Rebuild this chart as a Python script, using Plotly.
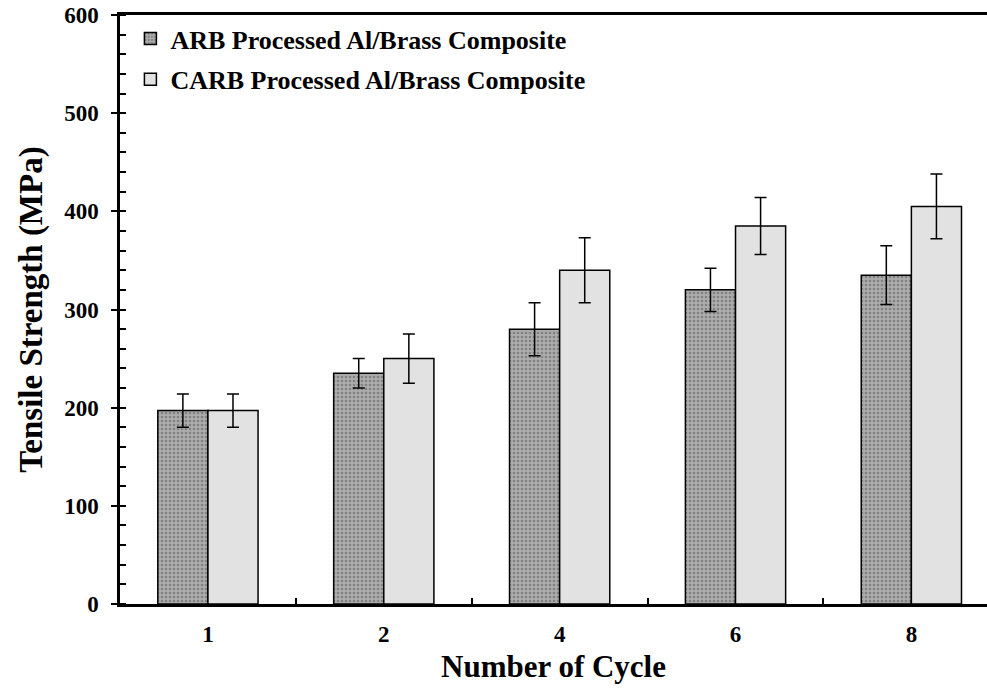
import plotly.graph_objects as go

cycles = ["1", "2", "4", "6", "8"]
arb_values = [197, 235, 280, 320, 335]
arb_errors = [17, 15, 27, 22, 30]
carb_values = [197, 250, 340, 385, 405]
carb_errors = [17, 25, 33, 29, 33]

FONT = "Liberation Serif"

fig = go.Figure()
fig.add_trace(go.Bar(
    x=cycles, y=arb_values, name="<b>ARB Processed Al/Brass Composite</b>",
    marker=dict(color="#a8a8a8", line=dict(color="black", width=1.5),
                pattern=dict(shape=".", fgcolor="#555555", bgcolor="#acacac", size=4, solidity=0.35)),
    error_y=dict(type="data", array=arb_errors, color="black", thickness=1.5, width=6),
    legendgroup="a",
))
fig.add_trace(go.Bar(
    x=cycles, y=carb_values, name="<b>CARB Processed Al/Brass Composite</b>",
    marker=dict(color="#e2e2e2", line=dict(color="black", width=1.5)),
    error_y=dict(type="data", array=carb_errors, color="black", thickness=1.5, width=6),
    legendgroup="b",
))
# invisible helper trace on overlay axis for inside major ticks
fig.add_trace(go.Scatter(x=cycles, y=arb_values, yaxis="y2", mode="none",
                         showlegend=False, hoverinfo="skip"))

fig.update_layout(
    width=987, height=696,
    margin=dict(l=120, r=0, t=15, b=92),
    plot_bgcolor="white", paper_bgcolor="white",
    barmode="group", bargap=0.43, bargroupgap=0,
    font=dict(family=FONT, color="black", size=23),
    legend=dict(x=0.012, y=1.0, xanchor="left", yanchor="top",
                font=dict(family=FONT, size=26, color="black"),
                bgcolor="rgba(0,0,0,0)", tracegroupgap=4, traceorder="grouped"),
    xaxis=dict(
        type="category", range=[-0.5, 4.43],
        showline=True, linecolor="black", linewidth=2.5, mirror=True,
        ticks="inside", tickson="boundaries", ticklen=6, tickcolor="black", tickwidth=1.5,
        tickfont=dict(family=FONT, size=23, color="black"),
        tickprefix="<b>", ticksuffix="</b>", ticklabelstandoff=8,
        title=dict(text="<b>Number of Cycle</b>", font=dict(family=FONT, size=31, color="black"), standoff=9),
        showgrid=False, zeroline=False,
    ),
    yaxis=dict(
        range=[0, 600], dtick=100,
        showline=True, linecolor="black", linewidth=2.5,
        ticks="outside", ticklen=6, tickwidth=2, tickcolor="black",
        minor=dict(dtick=20, ticks="inside", ticklen=6, tickcolor="black", tickwidth=1.5),
        tickfont=dict(family=FONT, size=23, color="black"),
        tickprefix="<b>", ticksuffix="</b>", ticklabelstandoff=8,
        title=dict(text="<b>Tensile Strength (MPa)</b>", font=dict(family=FONT, size=33, color="black"), standoff=12),
        showgrid=False, zeroline=False,
    ),
    yaxis2=dict(
        overlaying="y", side="left", range=[0, 600], dtick=100,
        ticks="inside", ticklen=6, tickwidth=2, tickcolor="black",
        showticklabels=False, showline=False, showgrid=False, zeroline=False,
    ),
)

fig.write_html("out.html", config={"displayModeBar": False},
               post_script="document.body.style.margin='0';document.body.style.overflow='hidden';")
